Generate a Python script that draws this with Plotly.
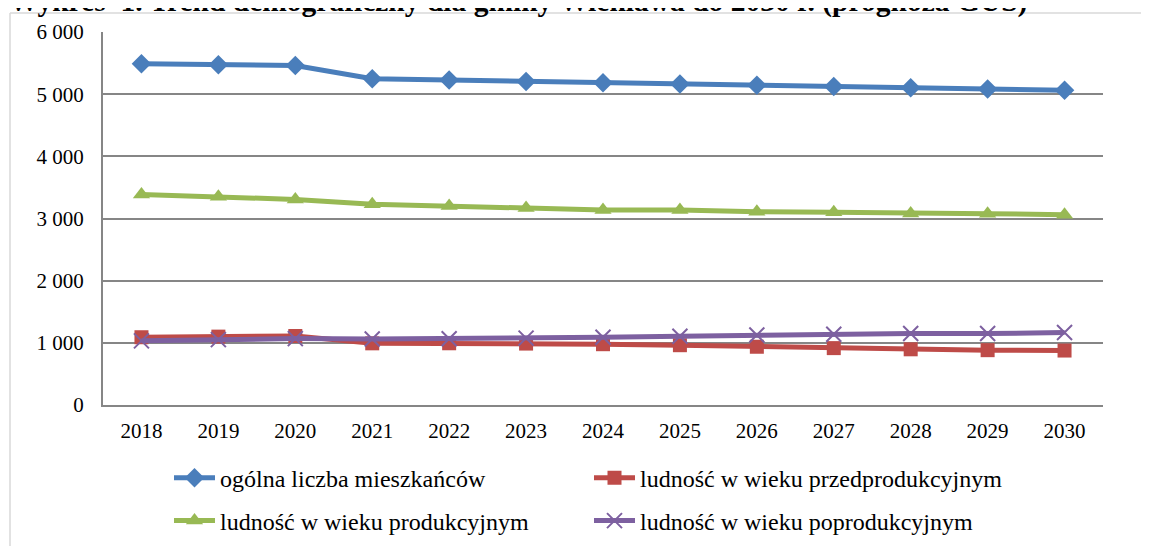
import plotly.graph_objects as go

years = ["2018", "2019", "2020", "2021", "2022", "2023", "2024", "2025", "2026", "2027", "2028", "2029", "2030"]
ogolna = [5490, 5475, 5460, 5250, 5228, 5205, 5182, 5162, 5145, 5125, 5103, 5082, 5062]
przedprod = [1090, 1100, 1110, 992, 993, 988, 978, 962, 937, 915, 896, 882, 876]
produkcyjny = [3385, 3348, 3307, 3228, 3200, 3170, 3138, 3135, 3108, 3102, 3080, 3078, 3062]
poprod = [1032, 1052, 1068, 1062, 1065, 1076, 1090, 1105, 1125, 1137, 1150, 1150, 1165]

names = ["ogólna liczba mieszkańców", "ludność w wieku przedprodukcyjnym",
         "ludność w wieku produkcyjnym", "ludność w wieku poprodukcyjnym"]
colors = ["#4A7EBB", "#BE4B48", "#98B954", "#7D60A0"]
symbols = ["diamond", "square", "triangle-up", "x-thin"]
sizes = [15, 14, 15, 15]
legends = ["legend", "legend", "legend2", "legend2"]
series = [ogolna, przedprod, produkcyjny, poprod]

fig = go.Figure()
for n, c, s, sz, lg, v in zip(names, colors, symbols, sizes, legends, series):
    marker = dict(symbol=s, size=sz, color=c)
    if s == "x-thin":
        marker["line"] = dict(color=c, width=2)
    fig.add_trace(go.Scatter(x=years, y=v, name=n, mode="lines+markers", legend=lg,
                             line=dict(color=c, width=5), marker=marker))

font_family = "Liberation Serif, Times New Roman, serif"
leg_common = dict(orientation="h", xanchor="left", yanchor="middle",
                  entrywidth=364, entrywidthmode="pixels",
                  font=dict(size=24, family=font_family, color="black"), itemwidth=41,
                  bgcolor="rgba(0,0,0,0)")
fig.update_layout(
    width=1149, height=546,
    margin=dict(l=95, r=54, t=24, b=149, autoexpand=False),
    paper_bgcolor="white", plot_bgcolor="white",
    separators=", ",
    font=dict(family=font_family, color="black", size=21),
    showlegend=True,
    legend=dict(x=0.066, y=-0.196, **leg_common),
    legend2=dict(x=0.066, y=-0.311, **leg_common),
    xaxis=dict(type="category", range=[-0.5, len(years) - 0.5],
               showgrid=False, showline=True, linecolor="#868686", linewidth=2,
               ticks="outside", ticklen=6, tickcolor="rgba(0,0,0,0)", automargin=False,
               tickfont=dict(size=21, family=font_family)),
    yaxis=dict(range=[0, 6000], tickvals=[0, 1000, 2000, 3000, 4000, 5000, 6000], tickformat=",d",
               showgrid=True, gridcolor="#868686", gridwidth=2, automargin=False,
               showline=True, linecolor="#868686", linewidth=2, zeroline=False,
               ticks="outside", ticklen=13, tickcolor="rgba(0,0,0,0)",
               tickfont=dict(size=21, family=font_family)),
    annotations=[dict(text="<b>Wykres  1. Trend demograficzny dla gminy Wieniawa do 2030 r. (prognoza GUS)</b>",
                      xref="paper", yref="paper", x=0.415, y=1.032, xanchor="center", yanchor="bottom",
                      showarrow=False, font=dict(size=29.5, family=font_family, color="black"))],
    shapes=[dict(type="line", xref="paper", yref="paper", x0=-0.093, x1=1.06, y0=1.051, y1=1.051,
                 line=dict(color="#D9D9D9", width=1.5)),
            dict(type="line", xref="paper", yref="paper", x0=-0.093, x1=-0.093, y0=1.051, y1=-0.5,
                 line=dict(color="#D9D9D9", width=1.5))],
)

fig.write_html("out.html")
